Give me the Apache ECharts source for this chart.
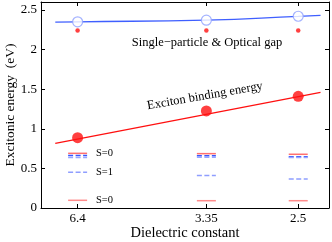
<!DOCTYPE html>
<html><head><meta charset="utf-8">
<script src="https://cdn.jsdelivr.net/npm/echarts@6/dist/echarts.min.js"></script>
<style>html,body{margin:0;padding:0;background:#fff}#c{width:332px;height:242px}</style>
</head><body><div id="c"></div>
<script>
const dielectric = [6.4, 3.35, 2.5];
const tickLabels = ['6.4', '3.35', '2.5'];
const gapQP = [2.35, 2.37, 2.42];          // open blue circles
const gapOptical = [2.24, 2.24, 2.24];     // small red dots
const bindingEnergy = [0.888, 1.225, 1.41];// red filled circles
const gapFitEps = [7.6, 6.4, 3.35, 2.5, 2.355];
const gapFitVal = [2.345, 2.35, 2.372, 2.418, 2.43];
const bindFitEps = [7.6, 2.355];
const bindFitVal = [0.817, 1.46];
const levelS0upperRed = [0.69, 0.686, 0.678];
const levelS0upperBlue = [0.662, 0.66, 0.648];
const levelS0upperBlue2 = [0.638, 0.64, 0.636];
const levelS1 = [0.45, 0.41, 0.366];
const levelS0lower = [0.097, 0.092, 0.092];

const inv = e => 1 / e;
const xs = dielectric.map(inv);
const pairs = (ex, ys) => ex.map((e, i) => [inv(e), ys[i]]);

const FONT = 'Liberation Serif';
const chart = echarts.init(document.getElementById('c'), null, {renderer: 'canvas'});

function levelSeries(vals, color, dash, width, opacity) {
  return {
    type: 'custom', xAxisIndex: 0, yAxisIndex: 0, z: 3,
    data: pairs(dielectric, vals),
    renderItem: function (params, api) {
      const p = api.coord([api.value(0), api.value(1)]);
      return {type: 'line', shape: {x1: p[0] - 9.5, y1: p[1], x2: p[0] + 9.5, y2: p[1]},
        style: {stroke: color, lineWidth: width, lineDash: dash, opacity: opacity}};
    }
  };
}

const option = {
  animation: false,
  grid: {left: 41, right: 3, top: 2, bottom: 34, show: false, containLabel: false, outerBoundsMode: 'none'},
  xAxis: [{
    type: 'value', min: 0.1158, max: 0.434, position: 'bottom',
    axisLine: {show: true, onZero: false, lineStyle: {color: '#000', width: 1}},
    axisTick: {show: true, inside: true, length: 4, customValues: xs, lineStyle: {color: '#000'}},
    axisLabel: {show: true, customValues: xs, margin: 4, color: '#000', fontFamily: FONT, fontSize: 13,
      formatter: v => { let i = xs.findIndex(x => Math.abs(x - v) < 1e-6); return i >= 0 ? tickLabels[i] : ''; }},
    splitLine: {show: false},
    name: 'Dielectric constant', nameLocation: 'middle', nameGap: 18, nameMoveOverlap: false,
    nameTextStyle: {color: '#000', fontFamily: FONT, fontSize: 14.5}
  }, {
    type: 'value', min: 0.1158, max: 0.434, position: 'top',
    axisLine: {show: true, onZero: false, lineStyle: {color: '#000', width: 1}},
    axisTick: {show: true, inside: true, length: 4, customValues: xs, lineStyle: {color: '#000'}},
    axisLabel: {show: false}, splitLine: {show: false}
  }],
  yAxis: [{
    type: 'value', min: 0, max: 2.6, interval: 0.5, position: 'left',
    axisLine: {show: true, onZero: false, lineStyle: {color: '#000', width: 1}},
    axisTick: {show: true, inside: true, length: 4, lineStyle: {color: '#000'}},
    axisLabel: {color: '#000', fontFamily: FONT, fontSize: 13, margin: 4,
      formatter: v => (v > 2.55 ? '' : String(v))},
    splitLine: {show: false},
    name: 'Excitonic energy  (eV)', nameLocation: 'middle', nameGap: 24, nameMoveOverlap: false,
    nameTextStyle: {color: '#000', fontFamily: FONT, fontSize: 13.5}
  }, {
    type: 'value', min: 0, max: 2.6, interval: 0.5, position: 'right',
    axisLine: {show: true, onZero: false, lineStyle: {color: '#000', width: 1}},
    axisTick: {show: true, inside: true, length: 4, lineStyle: {color: '#000'}},
    axisLabel: {show: false}, splitLine: {show: false}
  }],
  series: [
    {type: 'line', data: pairs(gapFitEps, gapFitVal), smooth: true, showSymbol: false,
      lineStyle: {color: '#3f5fff', width: 1.3}, z: 2},
    {type: 'line', data: pairs(bindFitEps, bindFitVal), showSymbol: false,
      lineStyle: {color: '#ff1010', width: 1.3}, z: 2},
    {type: 'scatter', data: pairs(dielectric, gapQP), symbol: 'circle', symbolSize: 10,
      itemStyle: {color: '#fff', borderColor: '#8ea0ff', borderWidth: 1.2}, z: 4},
    {type: 'scatter', data: pairs(dielectric, gapOptical), symbol: 'circle', symbolSize: 4.5,
      itemStyle: {color: '#ff1010'}, z: 4},
    {type: 'scatter', data: pairs(dielectric, bindingEnergy), symbol: 'circle', symbolSize: 11,
      itemStyle: {color: '#ff1010'}, z: 4},
    levelSeries(levelS0upperRed, '#ff7070', null, 1.5, 1),
    levelSeries(levelS0upperBlue, '#3a55ff', [5, 2.5], 1.5, 1),
    levelSeries(levelS0upperBlue2, '#98a6ff', [5, 2.5], 1.5, 1),
    levelSeries(levelS1, '#8f9eff', [5, 2.5], 1.5, 1),
    levelSeries(levelS0lower, '#ff8a8a', null, 1.5, 1)
  ],
  graphic: [
    {type: 'text', x: 207, y: 43, style: {text: 'Single\u2212particle & Optical gap', fontFamily: FONT, fontSize: 12.5, fill: '#000', align: 'center', verticalAlign: 'middle'}},
    {type: 'text', x: 205, y: 96, rotation: 0.172, style: {text: 'Exciton binding energy', fontFamily: FONT, fontSize: 12.5, fill: '#000', align: 'center', verticalAlign: 'middle'}},
    {type: 'text', x: 96, y: 153.5, style: {text: 'S=0', fontFamily: FONT, fontSize: 10.5, fill: '#000', verticalAlign: 'middle'}},
    {type: 'text', x: 96, y: 172.5, style: {text: 'S=1', fontFamily: FONT, fontSize: 10.5, fill: '#000', verticalAlign: 'middle'}},
    {type: 'text', x: 96, y: 200.5, style: {text: 'S=0', fontFamily: FONT, fontSize: 10.5, fill: '#000', verticalAlign: 'middle'}}
  ]
};
chart.setOption(option);
</script></body></html>
